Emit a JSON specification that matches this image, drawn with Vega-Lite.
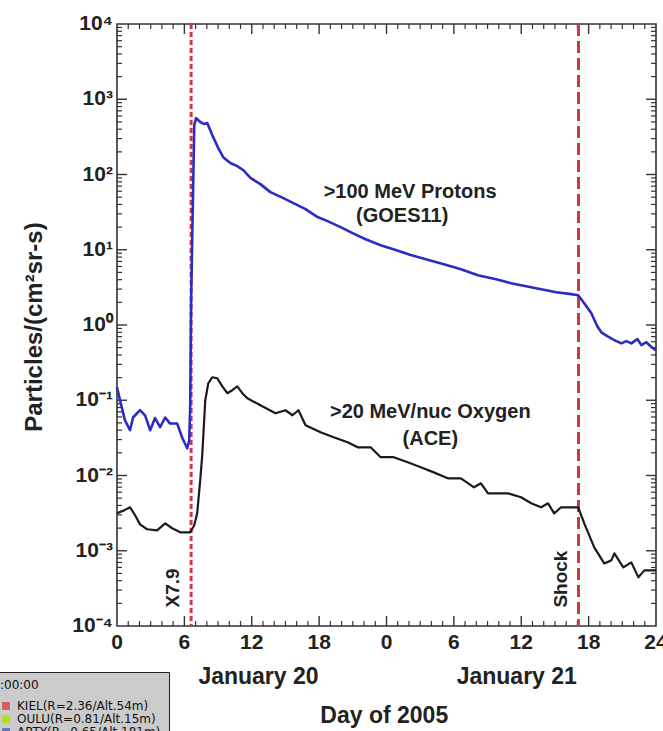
{
  "$schema": "https://vega.github.io/schema/vega-lite/v6.json",
  "width": 539,
  "height": 602,
  "autosize": {"type": "none"},
  "padding": {"left": 117, "top": 24, "right": 7, "bottom": 105},
  "background": "white",
  "config": {
    "view": {"stroke": "#333333", "strokeWidth": 1.6},
    "font": "Liberation Sans",
    "axis": {"grid": false, "domain": false, "ticks": false, "labelColor": "#222222", "labelFont": "Liberation Sans", "labelFontWeight": "bold", "titleColor": "#222222", "titleFont": "Liberation Sans", "titleFontWeight": "bold"},
    "legend": {"labelFont": "DejaVu Sans", "labelFontSize": 12, "labelColor": "#111111", "titleFont": "DejaVu Sans", "titleFontSize": 12, "titleFontWeight": "normal", "titleColor": "#111111", "fillColor": "#cbcbcb", "strokeColor": "#222222", "padding": 8, "symbolType": "square", "symbolSize": 60, "symbolStrokeWidth": 0, "symbolOpacity": 1, "labelOffset": 5, "rowPadding": 1, "titlePadding": 8}
  },
  "datasets": {
    "flux": [
      {"series": "protons", "h": 0, "v": 0.149},
      {"series": "protons", "h": 0.27, "v": 0.1},
      {"series": "protons", "h": 0.71, "v": 0.054},
      {"series": "protons", "h": 1.16, "v": 0.04},
      {"series": "protons", "h": 1.43, "v": 0.059},
      {"series": "protons", "h": 2.05, "v": 0.074},
      {"series": "protons", "h": 2.5, "v": 0.063},
      {"series": "protons", "h": 2.95, "v": 0.04},
      {"series": "protons", "h": 3.39, "v": 0.058},
      {"series": "protons", "h": 3.84, "v": 0.044},
      {"series": "protons", "h": 4.29, "v": 0.059},
      {"series": "protons", "h": 4.73, "v": 0.049},
      {"series": "protons", "h": 5.36, "v": 0.049},
      {"series": "protons", "h": 5.8, "v": 0.032},
      {"series": "protons", "h": 6.25, "v": 0.023},
      {"series": "protons", "h": 6.43, "v": 0.029},
      {"series": "protons", "h": 6.52, "v": 0.086},
      {"series": "protons", "h": 6.6, "v": 2.1},
      {"series": "protons", "h": 6.88, "v": 454},
      {"series": "protons", "h": 7.05, "v": 562},
      {"series": "protons", "h": 7.41, "v": 498},
      {"series": "protons", "h": 7.77, "v": 468},
      {"series": "protons", "h": 8.04, "v": 483},
      {"series": "protons", "h": 8.48, "v": 334},
      {"series": "protons", "h": 9.02, "v": 224},
      {"series": "protons", "h": 9.46, "v": 170},
      {"series": "protons", "h": 10.09, "v": 142},
      {"series": "protons", "h": 10.71, "v": 129},
      {"series": "protons", "h": 11.25, "v": 114},
      {"series": "protons", "h": 11.88, "v": 90},
      {"series": "protons", "h": 12.77, "v": 74.5},
      {"series": "protons", "h": 13.66, "v": 58.3},
      {"series": "protons", "h": 14.82, "v": 48.5},
      {"series": "protons", "h": 15.71, "v": 41.7},
      {"series": "protons", "h": 16.79, "v": 34.7},
      {"series": "protons", "h": 17.86, "v": 27.2},
      {"series": "protons", "h": 18.75, "v": 24},
      {"series": "protons", "h": 19.91, "v": 20},
      {"series": "protons", "h": 20.98, "v": 16.6},
      {"series": "protons", "h": 22.14, "v": 13.8},
      {"series": "protons", "h": 23.48, "v": 11.5},
      {"series": "protons", "h": 24.82, "v": 9.9},
      {"series": "protons", "h": 26.16, "v": 8.5},
      {"series": "protons", "h": 27.5, "v": 7.5},
      {"series": "protons", "h": 29.11, "v": 6.44},
      {"series": "protons", "h": 30.63, "v": 5.52},
      {"series": "protons", "h": 32.14, "v": 4.59},
      {"series": "protons", "h": 33.75, "v": 4.06},
      {"series": "protons", "h": 35.09, "v": 3.59},
      {"series": "protons", "h": 36.43, "v": 3.28},
      {"series": "protons", "h": 37.77, "v": 2.99},
      {"series": "protons", "h": 39.11, "v": 2.73},
      {"series": "protons", "h": 40.45, "v": 2.57},
      {"series": "protons", "h": 41.07, "v": 2.49},
      {"series": "protons", "h": 41.61, "v": 1.95},
      {"series": "protons", "h": 42.23, "v": 1.44},
      {"series": "protons", "h": 42.77, "v": 0.96},
      {"series": "protons", "h": 43.13, "v": 0.8},
      {"series": "protons", "h": 43.66, "v": 0.71},
      {"series": "protons", "h": 44.29, "v": 0.63},
      {"series": "protons", "h": 44.91, "v": 0.57},
      {"series": "protons", "h": 45.36, "v": 0.61},
      {"series": "protons", "h": 45.8, "v": 0.57},
      {"series": "protons", "h": 46.34, "v": 0.65},
      {"series": "protons", "h": 46.7, "v": 0.54},
      {"series": "protons", "h": 47.14, "v": 0.59},
      {"series": "protons", "h": 47.59, "v": 0.51},
      {"series": "protons", "h": 48, "v": 0.46},
      {"series": "oxygen", "h": 0, "v": 0.00314},
      {"series": "oxygen", "h": 0.63, "v": 0.00344},
      {"series": "oxygen", "h": 1.16, "v": 0.00378},
      {"series": "oxygen", "h": 1.61, "v": 0.00296},
      {"series": "oxygen", "h": 2.05, "v": 0.00224},
      {"series": "oxygen", "h": 2.68, "v": 0.00193},
      {"series": "oxygen", "h": 3.57, "v": 0.00187},
      {"series": "oxygen", "h": 4.29, "v": 0.00231},
      {"series": "oxygen", "h": 4.91, "v": 0.00199},
      {"series": "oxygen", "h": 5.63, "v": 0.00176},
      {"series": "oxygen", "h": 6.52, "v": 0.00176},
      {"series": "oxygen", "h": 6.88, "v": 0.00218},
      {"series": "oxygen", "h": 7.14, "v": 0.00314},
      {"series": "oxygen", "h": 7.41, "v": 0.00863},
      {"series": "oxygen", "h": 7.59, "v": 0.0186},
      {"series": "oxygen", "h": 7.86, "v": 0.1},
      {"series": "oxygen", "h": 8.13, "v": 0.168},
      {"series": "oxygen", "h": 8.48, "v": 0.202},
      {"series": "oxygen", "h": 8.93, "v": 0.196},
      {"series": "oxygen", "h": 9.38, "v": 0.153},
      {"series": "oxygen", "h": 9.82, "v": 0.124},
      {"series": "oxygen", "h": 10.27, "v": 0.136},
      {"series": "oxygen", "h": 10.71, "v": 0.153},
      {"series": "oxygen", "h": 11.16, "v": 0.124},
      {"series": "oxygen", "h": 11.61, "v": 0.106},
      {"series": "oxygen", "h": 12.77, "v": 0.0859},
      {"series": "oxygen", "h": 14.11, "v": 0.0672},
      {"series": "oxygen", "h": 15, "v": 0.0736},
      {"series": "oxygen", "h": 15.63, "v": 0.0632},
      {"series": "oxygen", "h": 16.16, "v": 0.0736},
      {"series": "oxygen", "h": 16.79, "v": 0.0466},
      {"series": "oxygen", "h": 18.13, "v": 0.0375},
      {"series": "oxygen", "h": 19.29, "v": 0.0322},
      {"series": "oxygen", "h": 20.54, "v": 0.0276},
      {"series": "oxygen", "h": 21.43, "v": 0.0237},
      {"series": "oxygen", "h": 22.59, "v": 0.0237},
      {"series": "oxygen", "h": 23.48, "v": 0.0175},
      {"series": "oxygen", "h": 24.64, "v": 0.0175},
      {"series": "oxygen", "h": 25.89, "v": 0.015},
      {"series": "oxygen", "h": 27.05, "v": 0.0129},
      {"series": "oxygen", "h": 28.21, "v": 0.011},
      {"series": "oxygen", "h": 29.46, "v": 0.00918},
      {"series": "oxygen", "h": 30.63, "v": 0.00918},
      {"series": "oxygen", "h": 31.79, "v": 0.00697},
      {"series": "oxygen", "h": 32.41, "v": 0.00787},
      {"series": "oxygen", "h": 33.04, "v": 0.00579},
      {"series": "oxygen", "h": 34.82, "v": 0.00579},
      {"series": "oxygen", "h": 35.98, "v": 0.00513},
      {"series": "oxygen", "h": 36.88, "v": 0.00427},
      {"series": "oxygen", "h": 37.77, "v": 0.00378},
      {"series": "oxygen", "h": 38.39, "v": 0.00427},
      {"series": "oxygen", "h": 38.93, "v": 0.00314},
      {"series": "oxygen", "h": 39.55, "v": 0.00378},
      {"series": "oxygen", "h": 41.07, "v": 0.00378},
      {"series": "oxygen", "h": 41.61, "v": 0.00231},
      {"series": "oxygen", "h": 42.5, "v": 0.00111},
      {"series": "oxygen", "h": 43.39, "v": 0.000679},
      {"series": "oxygen", "h": 44.02, "v": 0.000745},
      {"series": "oxygen", "h": 44.29, "v": 0.000923},
      {"series": "oxygen", "h": 45.09, "v": 0.000601},
      {"series": "oxygen", "h": 45.8, "v": 0.000701},
      {"series": "oxygen", "h": 46.43, "v": 0.000443},
      {"series": "oxygen", "h": 46.96, "v": 0.000548},
      {"series": "oxygen", "h": 48, "v": 0.000548}
    ],
    "events": [
      {"event": "X7.9", "h": 6.6},
      {"event": "Shock", "h": 41.1}
    ],
    "notes": [
      {"kind": "series", "label": ">100 MeV Protons", "h": 26.1, "v": 58},
      {"kind": "series", "label": "(GOES11)", "h": 25.4, "v": 28},
      {"kind": "series", "label": ">20 MeV/nuc Oxygen", "h": 27.9, "v": 0.069},
      {"kind": "series", "label": "(ACE)", "h": 27.9, "v": 0.031},
      {"kind": "date", "label": "January 20", "h": 12.6, "v": 0.000021},
      {"kind": "date", "label": "January 21", "h": 35.6, "v": 0.000021},
      {"kind": "event", "label": "X7.9", "h": 5.0, "v": 0.00032},
      {"kind": "event", "label": "Shock", "h": 39.55, "v": 0.00042}
    ],
    "xticks": [
      {"h": 1, "kind": "minor"}, {"h": 2, "kind": "minor"}, {"h": 3, "kind": "minor"}, {"h": 4, "kind": "minor"}, {"h": 5, "kind": "minor"},
      {"h": 6, "kind": "major"},
      {"h": 7, "kind": "minor"}, {"h": 8, "kind": "minor"}, {"h": 9, "kind": "minor"}, {"h": 10, "kind": "minor"}, {"h": 11, "kind": "minor"},
      {"h": 12, "kind": "major"},
      {"h": 13, "kind": "minor"}, {"h": 14, "kind": "minor"}, {"h": 15, "kind": "minor"}, {"h": 16, "kind": "minor"}, {"h": 17, "kind": "minor"},
      {"h": 18, "kind": "major"},
      {"h": 19, "kind": "minor"}, {"h": 20, "kind": "minor"}, {"h": 21, "kind": "minor"}, {"h": 22, "kind": "minor"}, {"h": 23, "kind": "minor"},
      {"h": 24, "kind": "major"},
      {"h": 25, "kind": "minor"}, {"h": 26, "kind": "minor"}, {"h": 27, "kind": "minor"}, {"h": 28, "kind": "minor"}, {"h": 29, "kind": "minor"},
      {"h": 30, "kind": "major"},
      {"h": 31, "kind": "minor"}, {"h": 32, "kind": "minor"}, {"h": 33, "kind": "minor"}, {"h": 34, "kind": "minor"}, {"h": 35, "kind": "minor"},
      {"h": 36, "kind": "major"},
      {"h": 37, "kind": "minor"}, {"h": 38, "kind": "minor"}, {"h": 39, "kind": "minor"}, {"h": 40, "kind": "minor"}, {"h": 41, "kind": "minor"},
      {"h": 42, "kind": "major"},
      {"h": 43, "kind": "minor"}, {"h": 44, "kind": "minor"}, {"h": 45, "kind": "minor"}, {"h": 46, "kind": "minor"}, {"h": 47, "kind": "minor"}
    ],
    "yticks": [
      {"v": 0.0002, "kind": "minor"}, {"v": 0.0003, "kind": "minor"}, {"v": 0.0004, "kind": "minor"}, {"v": 0.0005, "kind": "minor"}, {"v": 0.0006, "kind": "minor"}, {"v": 0.0007, "kind": "minor"}, {"v": 0.0008, "kind": "minor"}, {"v": 0.0009, "kind": "minor"},
      {"v": 0.001, "kind": "major"},
      {"v": 0.002, "kind": "minor"}, {"v": 0.003, "kind": "minor"}, {"v": 0.004, "kind": "minor"}, {"v": 0.005, "kind": "minor"}, {"v": 0.006, "kind": "minor"}, {"v": 0.007, "kind": "minor"}, {"v": 0.008, "kind": "minor"}, {"v": 0.009, "kind": "minor"},
      {"v": 0.01, "kind": "major"},
      {"v": 0.02, "kind": "minor"}, {"v": 0.03, "kind": "minor"}, {"v": 0.04, "kind": "minor"}, {"v": 0.05, "kind": "minor"}, {"v": 0.06, "kind": "minor"}, {"v": 0.07, "kind": "minor"}, {"v": 0.08, "kind": "minor"}, {"v": 0.09, "kind": "minor"},
      {"v": 0.1, "kind": "major"},
      {"v": 0.2, "kind": "minor"}, {"v": 0.3, "kind": "minor"}, {"v": 0.4, "kind": "minor"}, {"v": 0.5, "kind": "minor"}, {"v": 0.6, "kind": "minor"}, {"v": 0.7, "kind": "minor"}, {"v": 0.8, "kind": "minor"}, {"v": 0.9, "kind": "minor"},
      {"v": 1, "kind": "major"},
      {"v": 2, "kind": "minor"}, {"v": 3, "kind": "minor"}, {"v": 4, "kind": "minor"}, {"v": 5, "kind": "minor"}, {"v": 6, "kind": "minor"}, {"v": 7, "kind": "minor"}, {"v": 8, "kind": "minor"}, {"v": 9, "kind": "minor"},
      {"v": 10, "kind": "major"},
      {"v": 20, "kind": "minor"}, {"v": 30, "kind": "minor"}, {"v": 40, "kind": "minor"}, {"v": 50, "kind": "minor"}, {"v": 60, "kind": "minor"}, {"v": 70, "kind": "minor"}, {"v": 80, "kind": "minor"}, {"v": 90, "kind": "minor"},
      {"v": 100, "kind": "major"},
      {"v": 200, "kind": "minor"}, {"v": 300, "kind": "minor"}, {"v": 400, "kind": "minor"}, {"v": 500, "kind": "minor"}, {"v": 600, "kind": "minor"}, {"v": 700, "kind": "minor"}, {"v": 800, "kind": "minor"}, {"v": 900, "kind": "minor"},
      {"v": 1000, "kind": "major"},
      {"v": 2000, "kind": "minor"}, {"v": 3000, "kind": "minor"}, {"v": 4000, "kind": "minor"}, {"v": 5000, "kind": "minor"}, {"v": 6000, "kind": "minor"}, {"v": 7000, "kind": "minor"}, {"v": 8000, "kind": "minor"}, {"v": 9000, "kind": "minor"}
    ],
    "stations": [
      {"station": "KIEL(R=2.36/Alt.54m)"},
      {"station": "OULU(R=0.81/Alt.15m)"},
      {"station": "APTY(R=0.65/Alt.181m)"}
    ],
    "xlabels": [
      {"h": 0, "label": "0"}, {"h": 6, "label": "6"}, {"h": 12, "label": "12"}, {"h": 18, "label": "18"},
      {"h": 24, "label": "0"}, {"h": 30, "label": "6"}, {"h": 36, "label": "12"}, {"h": 42, "label": "18"}, {"h": 48, "label": "24"}
    ],
    "ylabels": [
      {"v": 0.0001, "label": "10⁻⁴"}, {"v": 0.001, "label": "10⁻³"}, {"v": 0.01, "label": "10⁻²"}, {"v": 0.1, "label": "10⁻¹"},
      {"v": 1, "label": "10⁰"}, {"v": 10, "label": "10¹"}, {"v": 100, "label": "10²"}, {"v": 1000, "label": "10³"}, {"v": 10000, "label": "10⁴"}
    ],
    "ytitle": [
      {"label": "Particles/(cm²sr-s)", "h": -7.3, "v": 0.94}
    ],
    "xtitle": [
      {"label": "Day of 2005", "h": 23.8, "v": 0.0000064}
    ]
  },
  "layer": [
    {
      "data": {"name": "xticks"},
      "transform": [{"filter": "datum.kind == 'major'"}],
      "mark": {"type": "rule", "color": "#333333", "strokeWidth": 1.4},
      "encoding": {
        "x": {"field": "h", "type": "quantitative", "scale": {"domain": [0, 48], "nice": false, "zero": false}, "axis": null},
        "y": {"datum": 0.0001, "type": "quantitative", "scale": {"type": "log", "domain": [0.0001, 10000], "nice": false}, "axis": null},
        "y2": {"datum": 0.0001358}
      }
    },
    {
      "data": {"name": "xticks"},
      "transform": [{"filter": "datum.kind == 'minor'"}],
      "mark": {"type": "rule", "color": "#333333", "strokeWidth": 1.2},
      "encoding": {
        "x": {"field": "h", "type": "quantitative", "axis": null},
        "y": {"datum": 0.0001, "type": "quantitative", "axis": null},
        "y2": {"datum": 0.0001165}
      }
    },
    {
      "data": {"name": "xticks"},
      "transform": [{"filter": "datum.kind == 'major'"}],
      "mark": {"type": "rule", "color": "#333333", "strokeWidth": 1.4},
      "encoding": {
        "x": {"field": "h", "type": "quantitative", "axis": null},
        "y": {"datum": 10000, "type": "quantitative", "axis": null},
        "y2": {"datum": 7364}
      }
    },
    {
      "data": {"name": "xticks"},
      "transform": [{"filter": "datum.kind == 'minor'"}],
      "mark": {"type": "rule", "color": "#333333", "strokeWidth": 1.2},
      "encoding": {
        "x": {"field": "h", "type": "quantitative", "axis": null},
        "y": {"datum": 10000, "type": "quantitative", "axis": null},
        "y2": {"datum": 8583}
      }
    },
    {
      "data": {"name": "yticks"},
      "transform": [{"filter": "datum.kind == 'major'"}],
      "mark": {"type": "rule", "color": "#333333", "strokeWidth": 1.4},
      "encoding": {
        "y": {"field": "v", "type": "quantitative", "axis": null},
        "x": {"datum": 0, "type": "quantitative", "axis": null},
        "x2": {"datum": 0.89}
      }
    },
    {
      "data": {"name": "yticks"},
      "transform": [{"filter": "datum.kind == 'minor'"}],
      "mark": {"type": "rule", "color": "#333333", "strokeWidth": 1.2},
      "encoding": {
        "y": {"field": "v", "type": "quantitative", "axis": null},
        "x": {"datum": 0, "type": "quantitative", "axis": null},
        "x2": {"datum": 0.445}
      }
    },
    {
      "data": {"name": "yticks"},
      "transform": [{"filter": "datum.kind == 'major'"}],
      "mark": {"type": "rule", "color": "#333333", "strokeWidth": 1.4},
      "encoding": {
        "y": {"field": "v", "type": "quantitative", "axis": null},
        "x": {"datum": 48, "type": "quantitative", "axis": null},
        "x2": {"datum": 47.11}
      }
    },
    {
      "data": {"name": "yticks"},
      "transform": [{"filter": "datum.kind == 'minor'"}],
      "mark": {"type": "rule", "color": "#333333", "strokeWidth": 1.2},
      "encoding": {
        "y": {"field": "v", "type": "quantitative", "axis": null},
        "x": {"datum": 48, "type": "quantitative", "axis": null},
        "x2": {"datum": 47.555}
      }
    },
    {
      "data": {"name": "events"},
      "transform": [{"filter": "datum.event == 'X7.9'"}],
      "mark": {"type": "rule", "color": "#cc3a4a", "strokeWidth": 3, "strokeDash": [5, 3]},
      "encoding": {"x": {"field": "h", "type": "quantitative", "axis": null}}
    },
    {
      "data": {"name": "events"},
      "transform": [{"filter": "datum.event == 'Shock'"}],
      "mark": {"type": "rule", "color": "#c83a4a", "strokeWidth": 3, "strokeDash": [12, 5]},
      "encoding": {"x": {"field": "h", "type": "quantitative", "axis": null}}
    },
    {
      "data": {"name": "flux"},
      "transform": [{"filter": "datum.series == 'protons'"}],
      "mark": {"type": "line", "color": "#2c2cc4", "strokeWidth": 2.6, "strokeJoin": "round"},
      "encoding": {
        "x": {"field": "h", "type": "quantitative", "title": "Day of 2005",
          "axis": {"orient": "bottom", "values": [0, 6, 12, 18, 24, 30, 36, 42, 48], "labelExpr": "datum.value == 48 ? '24' : '' + (datum.value % 24)", "labelPadding": 7, "labelFontSize": 21, "labelFlush": false, "titleFontSize": 23, "titleY": 90, "titleBaseline": "middle"}},
        "y": {"field": "v", "type": "quantitative", "title": "Particles/(cm²sr-s)",
          "axis": {"orient": "left", "values": [0.0001, 0.001, 0.01, 0.1, 1, 10, 100, 1000, 10000], "labelExpr": "['10⁻⁴','10⁻³','10⁻²','10⁻¹','10⁰','10¹','10²','10³','10⁴'][round(log(datum.value)/LN10)+4]", "labelPadding": 4, "labelFontSize": 21, "labelFlush": false, "titleFontSize": 24, "titleX": -82, "titleY": 303, "titleBaseline": "middle", "titleAlign": "center"}}
      }
    },
    {
      "data": {"name": "flux"},
      "transform": [{"filter": "datum.series == 'oxygen'"}],
      "mark": {"type": "line", "color": "#1a1a1a", "strokeWidth": 2.2, "strokeJoin": "round"},
      "encoding": {
        "x": {"field": "h", "type": "quantitative"},
        "y": {"field": "v", "type": "quantitative"}
      }
    },
    {
      "data": {"name": "notes"},
      "transform": [{"filter": "datum.kind == 'series'"}],
      "mark": {"type": "text", "font": "Liberation Sans", "fontWeight": "bold", "fontSize": 20, "color": "#222222", "align": "center", "baseline": "middle"},
      "encoding": {
        "x": {"field": "h", "type": "quantitative"},
        "y": {"field": "v", "type": "quantitative"},
        "text": {"field": "label"}
      }
    },
    {
      "data": {"name": "notes"},
      "transform": [{"filter": "datum.kind == 'date'"}],
      "mark": {"type": "text", "font": "Liberation Sans", "fontWeight": "bold", "fontSize": 23, "color": "#222222", "align": "center", "baseline": "middle"},
      "encoding": {
        "x": {"field": "h", "type": "quantitative"},
        "y": {"field": "v", "type": "quantitative"},
        "text": {"field": "label"}
      }
    },
    {
      "data": {"name": "notes"},
      "transform": [{"filter": "datum.kind == 'event'"}],
      "mark": {"type": "text", "font": "Liberation Sans", "fontWeight": "bold", "fontSize": 19, "color": "#222222", "align": "center", "baseline": "middle", "angle": 270},
      "encoding": {
        "x": {"field": "h", "type": "quantitative"},
        "y": {"field": "v", "type": "quantitative"},
        "text": {"field": "label"}
      }
    },
    {
      "data": {"name": "stations"},
      "mark": {"type": "text", "text": ""},
      "encoding": {
        "color": {"field": "station", "type": "nominal", "sort": null,
          "scale": {"domain": ["KIEL(R=2.36/Alt.54m)", "OULU(R=0.81/Alt.15m)", "APTY(R=0.65/Alt.181m)"], "range": ["#d85a5a", "#b0e020", "#5a78a8"]},
          "legend": {"title": ":00:00", "orient": "none", "legendX": -125, "legendY": 648, "symbolType": "square"}}
      }
    },
    {
      "data": {"name": "xlabels"},
      "mark": {"type": "text", "font": "Liberation Sans", "fontWeight": "bold", "fontSize": 21, "color": "#222222", "align": "center", "baseline": "middle"},
      "encoding": {
        "x": {"field": "h", "type": "quantitative", "axis": null},
        "y": {"datum": 0.0000594, "type": "quantitative", "axis": null},
        "text": {"field": "label"}
      }
    },
    {
      "data": {"name": "ylabels"},
      "mark": {"type": "text", "font": "Liberation Sans", "fontWeight": "bold", "fontSize": 21, "color": "#222222", "align": "right", "baseline": "middle"},
      "encoding": {
        "y": {"field": "v", "type": "quantitative", "axis": null},
        "x": {"datum": -0.36, "type": "quantitative", "axis": null},
        "text": {"field": "label"}
      }
    },
    {
      "data": {"name": "ytitle"},
      "mark": {"type": "text", "font": "Liberation Sans", "fontWeight": "bold", "fontSize": 24, "color": "#222222", "align": "center", "baseline": "middle", "angle": 270},
      "encoding": {
        "x": {"field": "h", "type": "quantitative", "axis": null},
        "y": {"field": "v", "type": "quantitative", "axis": null},
        "text": {"field": "label"}
      }
    },
    {
      "data": {"name": "xtitle"},
      "mark": {"type": "text", "font": "Liberation Sans", "fontWeight": "bold", "fontSize": 23, "color": "#222222", "align": "center", "baseline": "middle"},
      "encoding": {
        "x": {"field": "h", "type": "quantitative", "axis": null},
        "y": {"field": "v", "type": "quantitative", "axis": null},
        "text": {"field": "label"}
      }
    }
  ]
}
